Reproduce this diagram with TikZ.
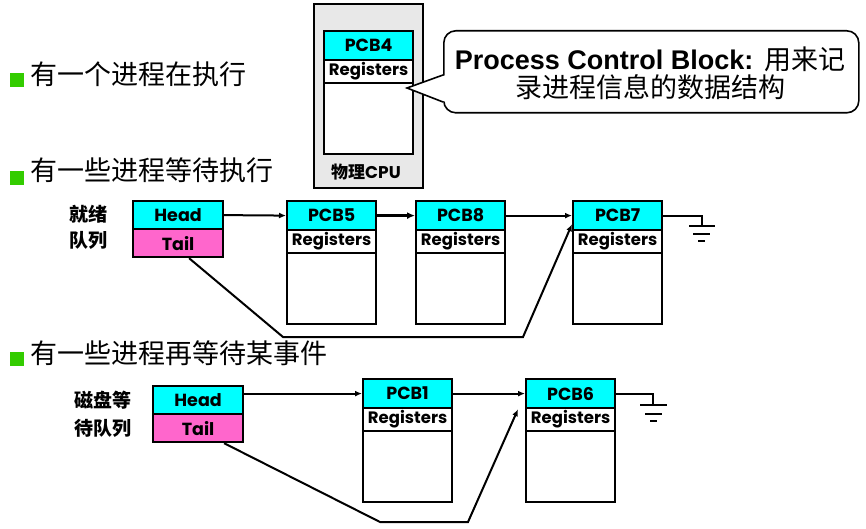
\documentclass[tikz,border=0pt]{standalone}
\usepackage{fontspec}
\newfontfamily\boxfont{Poppins}
\newfontfamily\cjk{Noto Sans CJK SC}
\newfontfamily\arialf{Liberation Sans}
\usetikzlibrary{arrows.meta}
\definecolor{cyanb}{RGB}{0,255,255}
\definecolor{pinkb}{RGB}{255,102,204}
\definecolor{greenb}{RGB}{51,204,0}
\definecolor{cpugray}{RGB}{232,232,232}
\newcommand\pcbbox[4]{%
  \node[hdr] (#1h) at (#3,#4) {#2};
  \node[reg] (#1r) at (#3,#4+29) {Registers};
  \node[bod] (#1b) at (#3,#4+52) {};
}
\begin{document}
\begin{tikzpicture}[x=1pt,y=-1pt,
  cell/.style={draw=black,line width=2.2pt,minimum width=89pt,inner sep=0pt,
    font=\boxfont\bfseries\fontsize{17.5}{17.5}\selectfont,anchor=north west},
  hdr/.style={cell,fill=cyanb,minimum height=29pt},
  reg/.style={cell,fill=white,minimum height=23pt,font=\boxfont\bfseries\fontsize{16.5}{16.5}\selectfont},
  bod/.style={cell,fill=white,minimum height=71pt},
  qhead/.style={cell,fill=cyanb,minimum width=90pt,minimum height=28pt},
  qtail/.style={cell,fill=pinkb,minimum width=90pt,minimum height=28pt},
  conn/.style={line width=2pt,-{Latex[length=7pt,width=6pt]}},
  wire/.style={line width=2pt},
  bulletbox/.style={fill=greenb,minimum size=14pt,inner sep=0pt},
  bullettext/.style={anchor=west,inner sep=0pt,font=\cjk\fontsize{27}{27}\selectfont},
  qlabel/.style={align=center,inner sep=0pt,font=\cjk\bfseries\fontsize{19}{26}\selectfont}
]
\useasboundingbox[fill=white] (0,0) rectangle (866,529);

% bullets
\node[bulletbox] (b1) at (17,80) {};
\node[bullettext] (t1) at (30,74) {有一个进程在执行};
\node[bulletbox] (b2) at (17,178) {};
\node[bullettext] (t2) at (30,170) {有一些进程等待执行};
\node[bulletbox] (b3) at (17,359) {};
\node[bullettext] (t3) at (30,353) {有一些进程再等待某事件};

% CPU
\node[draw,fill=cpugray,line width=1.6pt,minimum width=109pt,minimum height=184pt,
  anchor=north west,inner sep=0pt] (cpu) at (313,3) {};
\pcbbox{p4}{PCB4}{323}{30}
\node[inner sep=0pt] (cpulbl) at (366,172) {{\cjk\bfseries\fontsize{17}{17}\selectfont 物理}{\boxfont\bfseries\fontsize{17}{17}\selectfont CPU}};

% callout
\node[draw,rounded corners=12pt,line width=1.6pt,minimum width=415pt,minimum height=82pt,
  anchor=north west,fill=white,inner sep=0pt] (callout) at (443,30) {};
\fill[white] (446,75) -- (407,88) -- (446,102) -- cycle;
\coordinate (tip) at (407,88);
\draw[wire,line width=1.6pt] (443,75) -- (tip) -- (443,102);
\node[align=center,inner sep=0pt,font=\fontsize{27}{28}\selectfont] (ctext) at (650,73)
  {{\arialf\bfseries Process Control Block:} {\cjk 用来记}\\{\cjk 录进程信息的数据结构}};

% ready queue
\node[qlabel] (rl) at (88,227) {就绪\\队列};
\node[qhead] (rh) at (132,200) {Head};
\node[qtail] (rt) at (132,228) {Tail};
\pcbbox{p5}{PCB5}{286}{200}
\pcbbox{p8}{PCB8}{415}{200}
\pcbbox{p7}{PCB7}{572}{200}
\draw[conn] (rh.east) -- (p5h.west);
\draw[line width=3.2pt,-{Latex[length=8pt,width=7pt]}] (p5h.east) -- (p8h.west);
\draw[conn] (p8h.east) -- (p7h.west);
\draw[conn] ([xshift=11pt]rt.south) -- (283,337) -- (523,337) -- ([yshift=7pt]p7h.south west);
\coordinate (g1) at (702,226);
\draw[wire] (p7h.east) -| (g1);
\draw[wire] (689,226) -- (715,226);
\draw[wire] (693,234) -- (710,234);
\draw[line width=2.6pt] (698,241) -- (705,241);

% disk queue
\node[qlabel,font=\cjk\bfseries\fontsize{19}{28}\selectfont] (dl) at (103,414) {磁盘等\\待队列};
\node[qhead] (dh) at (152,385) {Head};
\node[qtail] (dt) at (152,413) {Tail};
\pcbbox{p1}{PCB1}{362}{378}
\pcbbox{p6}{PCB6}{525}{378}
\draw[conn] (dh.east |- p1h.west) -- (p1h.west);
\draw[conn] (p1h.east) -- (p6h.west);
\draw[conn] ([xshift=26pt]dt.south) -- (380,522) -- (468,522) -- ([xshift=-7pt]p6h.south west);
\coordinate (g2) at (653,405);
\draw[wire] (p6h.east) -| (g2);
\draw[wire] (640,405) -- (667,405);
\draw[wire] (645,414) -- (662,414);
\draw[line width=2.6pt] (650,421) -- (657,421);
\end{tikzpicture}
\end{document}
